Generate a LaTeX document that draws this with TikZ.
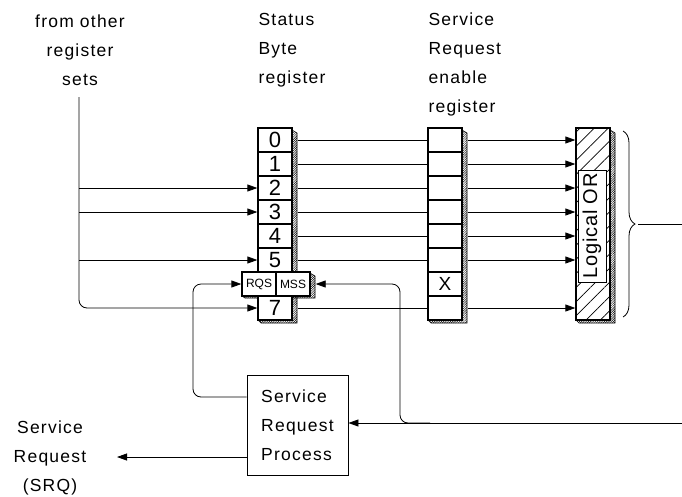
\documentclass[tikz,border=0pt]{standalone}
\usepackage{fontspec}
\setmainfont{Liberation Sans}
\usetikzlibrary{arrows.meta,patterns,patterns.meta,decorations.pathreplacing,calc}
\begin{document}
\begin{tikzpicture}[x=1pt,y=-1pt,
  conn/.style={line width=0.8pt},
  arr/.style={conn,-{Triangle[length=10pt,width=7pt]}},
  cell/.style={draw,fill=white,line width=1.3pt,minimum width=34pt,minimum height=24pt,inner sep=0pt,
    font=\fontsize{22}{22}\selectfont},
  small/.style={font=\fontsize{12}{12}\selectfont},
  shadowfill/.style={draw,line width=0.6pt,pattern={Lines[angle=45,distance=1.6pt,line width=0.5pt]}},
  lbl/.style={font=\fontsize{17.5}{29}\selectfont\addfontfeatures{LetterSpace=7}}
]
\useasboundingbox (0,0) rectangle (682,496);

% titles
\node[lbl,align=center] (t1) at (80,50) {from other\\register\\sets};
\node[lbl,align=left,anchor=west] (t2) at (255,50) {Status\\Byte\\register};
\node[lbl,align=left,anchor=west] (t3) at (425,64) {Service\\Request\\enable\\register};

% Status byte register shadows
\path[shadowfill] (292,130) -- (297,133) -- (297,323) -- (261,323) -- (258,320) -- (292,320) -- cycle;
\path[shadowfill] (310,273) -- (315,276) -- (315,298) -- (245,298) -- (242,296) -- (310,296) -- cycle;
% Status byte register cells
\foreach \i/\y in {0/140,1/164,2/188,3/212,4/236,5/260,7/308}
  \node[cell] (sb\i) at (275,\y) {\i};
\node[cell,small] (rqs) at (259,284) {RQS};
\node[cell,small] (mss) at (293,284) {MSS};

% enable register
\path[shadowfill] (462,130) -- (467,133) -- (467,323) -- (431,323) -- (428,320) -- (462,320) -- cycle;
\foreach \i/\y in {0/140,1/164,2/188,3/212,4/236,5/260,7/308}
  \node[cell] (en\i) at (445,\y) {};
\node[cell,font=\fontsize{19}{19}\selectfont] (en6) at (445,284) {X};

% logical OR
\path[shadowfill] (610,130) -- (615,133) -- (615,323) -- (579,323) -- (576,320) -- (610,320) -- cycle;
\node[draw,line width=1.3pt,minimum width=34pt,minimum height=192pt,inner sep=0pt,fill=white,
  postaction={pattern={Lines[angle=45,distance=10pt,line width=0.7pt]}}] (or) at (593,224) {};
\node[draw,fill=white,line width=0.9pt,rotate=90,minimum width=112pt,minimum height=28pt,inner sep=0pt,
  font=\fontsize{20}{20}\selectfont\addfontfeatures{LetterSpace=4}] (ortxt) at (592,226) {Logical OR};

% inputs from other register sets
\coordinate (fo) at (79,97);
\draw[arr,rounded corners=8pt] (fo) |- (sb7.west);
\foreach \i in {2,3,5}
  \draw[arr] (sb\i.west -| fo) -- (sb\i.west);

% status byte -> enable
\foreach \i in {0,1,2,3,4,5,7}
  \draw[conn] ([xshift=5pt]sb\i.east) -- (en\i.west);
% enable -> logical OR
\foreach \i in {0,1,2,3,4,5,7}
  \draw[arr] ([xshift=5pt]en\i.east) -- (en\i.east -| or.west);

% brace
\coordinate (bt) at (623,131);
\coordinate (bb) at (623,317);
\draw[conn,decorate,decoration={brace,amplitude=12pt}] (bt) -- (bb);
\coordinate (btip) at (638,224);
\coordinate (outR) at (682,224);
\draw[conn] (btip) -- (outR);

% service request process
\node[draw,line width=0.9pt,minimum width=101pt,minimum height=100pt,align=left,inner sep=0pt,lbl] (srp) at (297.5,425) {Service\\Request\\Process};
\node[lbl,align=center] (srq) at (50,458) {Service\\Request\\(SRQ)};

\coordinate (inR) at (682,423);
\draw[arr] (inR) -- (inR -| srp.east);
\coordinate (jn) at (430,423);
\draw[arr,rounded corners=8pt] (jn) -- (400,423) -- (400,284) -- ([xshift=5pt]mss.east);
\draw[arr,rounded corners=8pt] ($(srp.west)+(0,-28)$) -- (193,397) -- (193,284) -- (rqs.west);
\coordinate (srqin) at (117,457);
\draw[arr] ($(srp.west)+(0,32)$) -- (srqin);
\end{tikzpicture}
\end{document}
